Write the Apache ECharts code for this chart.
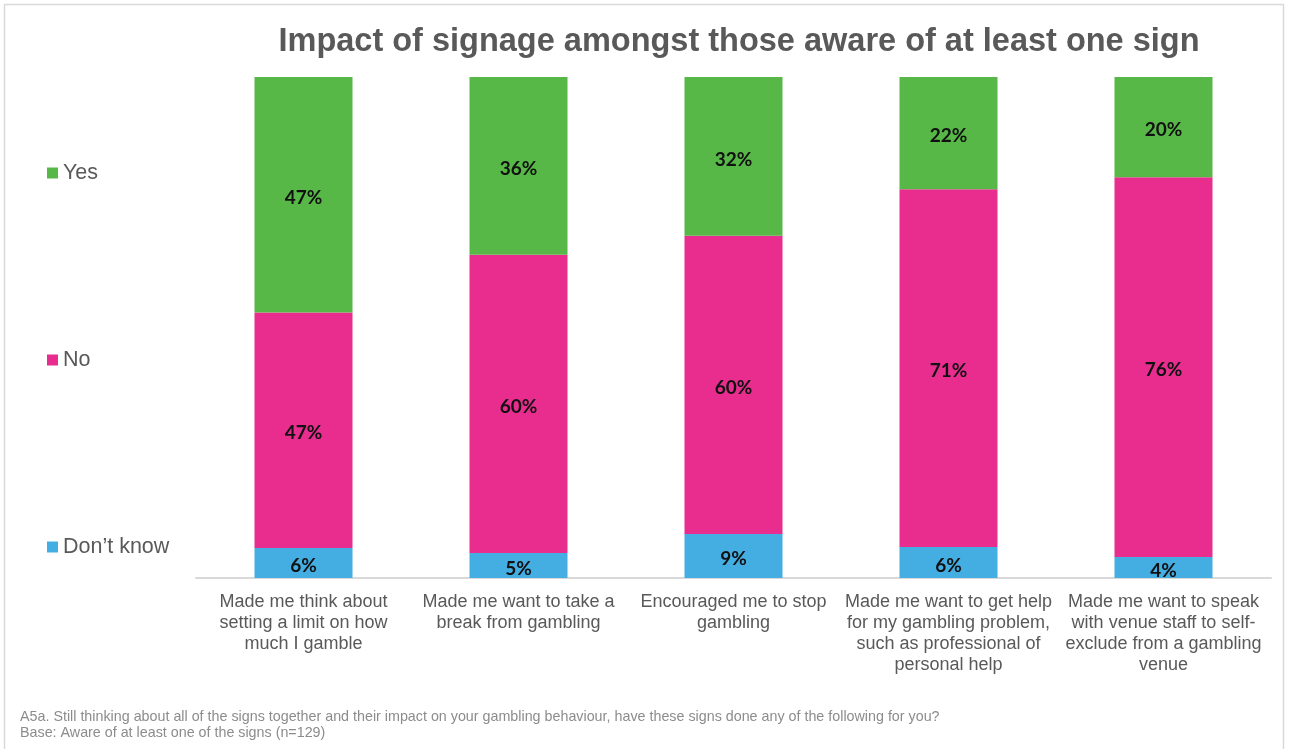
<!DOCTYPE html>
<html><head><meta charset="utf-8">
<script src="https://cdn.jsdelivr.net/npm/echarts@6/dist/echarts.min.js"></script>
<style>html,body{margin:0;padding:0;background:#fff}#c{width:1292px;height:749px}</style>
</head><body><div id="c"></div>
<script>
const categories = [
  "Made me think about\nsetting a limit on how\nmuch I gamble",
  "Made me want to take a\nbreak from gambling",
  "Encouraged me to stop\ngambling",
  "Made me want to get help\nfor my gambling problem,\nsuch as professional of\npersonal help",
  "Made me want to speak\nwith venue staff to self-\nexclude from a gambling\nvenue"
];
const dontKnow = [6.0, 5.0, 8.8, 6.2, 4.2];
const no = [47.0, 59.5, 59.5, 71.4, 75.8];
const yes = [47.0, 35.5, 31.7, 22.4, 20.0];
const titleText = "Impact of signage amongst those aware of at least one sign";
const footnote = "A5a. Still thinking about all of the signs together and their impact on your gambling behaviour, have these signs done any of the following for you?\nBase: Aware of at least one of the signs (n=129)";

const chart = echarts.init(document.getElementById('c'));
const lbl = {
  show: true, position: 'inside', offset: [0, 3], color: '#111',
  fontFamily: 'Lato', fontWeight: 'bold', fontSize: 19,
  formatter: p => Math.round(p.value) + '%'
};
function s(name, data, color) {
  return { name, type: 'bar', stack: 'a', data, barWidth: 98,
    itemStyle: { color }, label: lbl, emphasis: { disabled: true } };
}
chart.setOption({
  animation: false,
  title: { text: titleText, left: 734, textAlign: 'center', top: 21,
    textStyle: { fontFamily: 'Liberation Sans', fontWeight: 'bold', fontSize: 32.5, color: '#595959' } },
  legend: { orient: 'vertical', left: 47, top: 162, itemGap: 165, padding: 0,
    itemWidth: 11, itemHeight: 11, icon: 'rect', selectedMode: false,
    data: ['Yes', 'No', 'Don’t know'],
    textStyle: { fontFamily: 'Liberation Sans', fontSize: 21.5, color: '#595959', lineHeight: 20 } },
  grid: { left: 196, right: 21, top: 77, bottom: 171, containLabel: false },
  xAxis: { type: 'category', data: categories,
    axisLine: { lineStyle: { color: '#d9d9d9', width: 2 } }, axisTick: { show: false },
    axisLabel: { interval: 0, margin: 14, fontFamily: 'Liberation Sans', fontSize: 18, color: '#595959', lineHeight: 21 } },
  yAxis: { type: 'value', min: 0, max: 100, show: false },
  series: [
    s('Don’t know', dontKnow, '#44ade2'),
    s('No', no, '#e92d8f'),
    s('Yes', yes, '#57b847')
  ],
  graphic: [
    { type: 'rect', shape: { x: 4.5, y: 4.5, width: 1279, height: 760 }, style: { fill: 'none', stroke: '#d9d9d9', lineWidth: 1.5 }, silent: true },
    { type: 'text', left: 20, top: 709, style: { text: footnote, fontFamily: 'Liberation Sans', fontSize: 14.3, lineHeight: 16, fill: '#8c8c8c' } }
  ]
});
</script></body></html>
